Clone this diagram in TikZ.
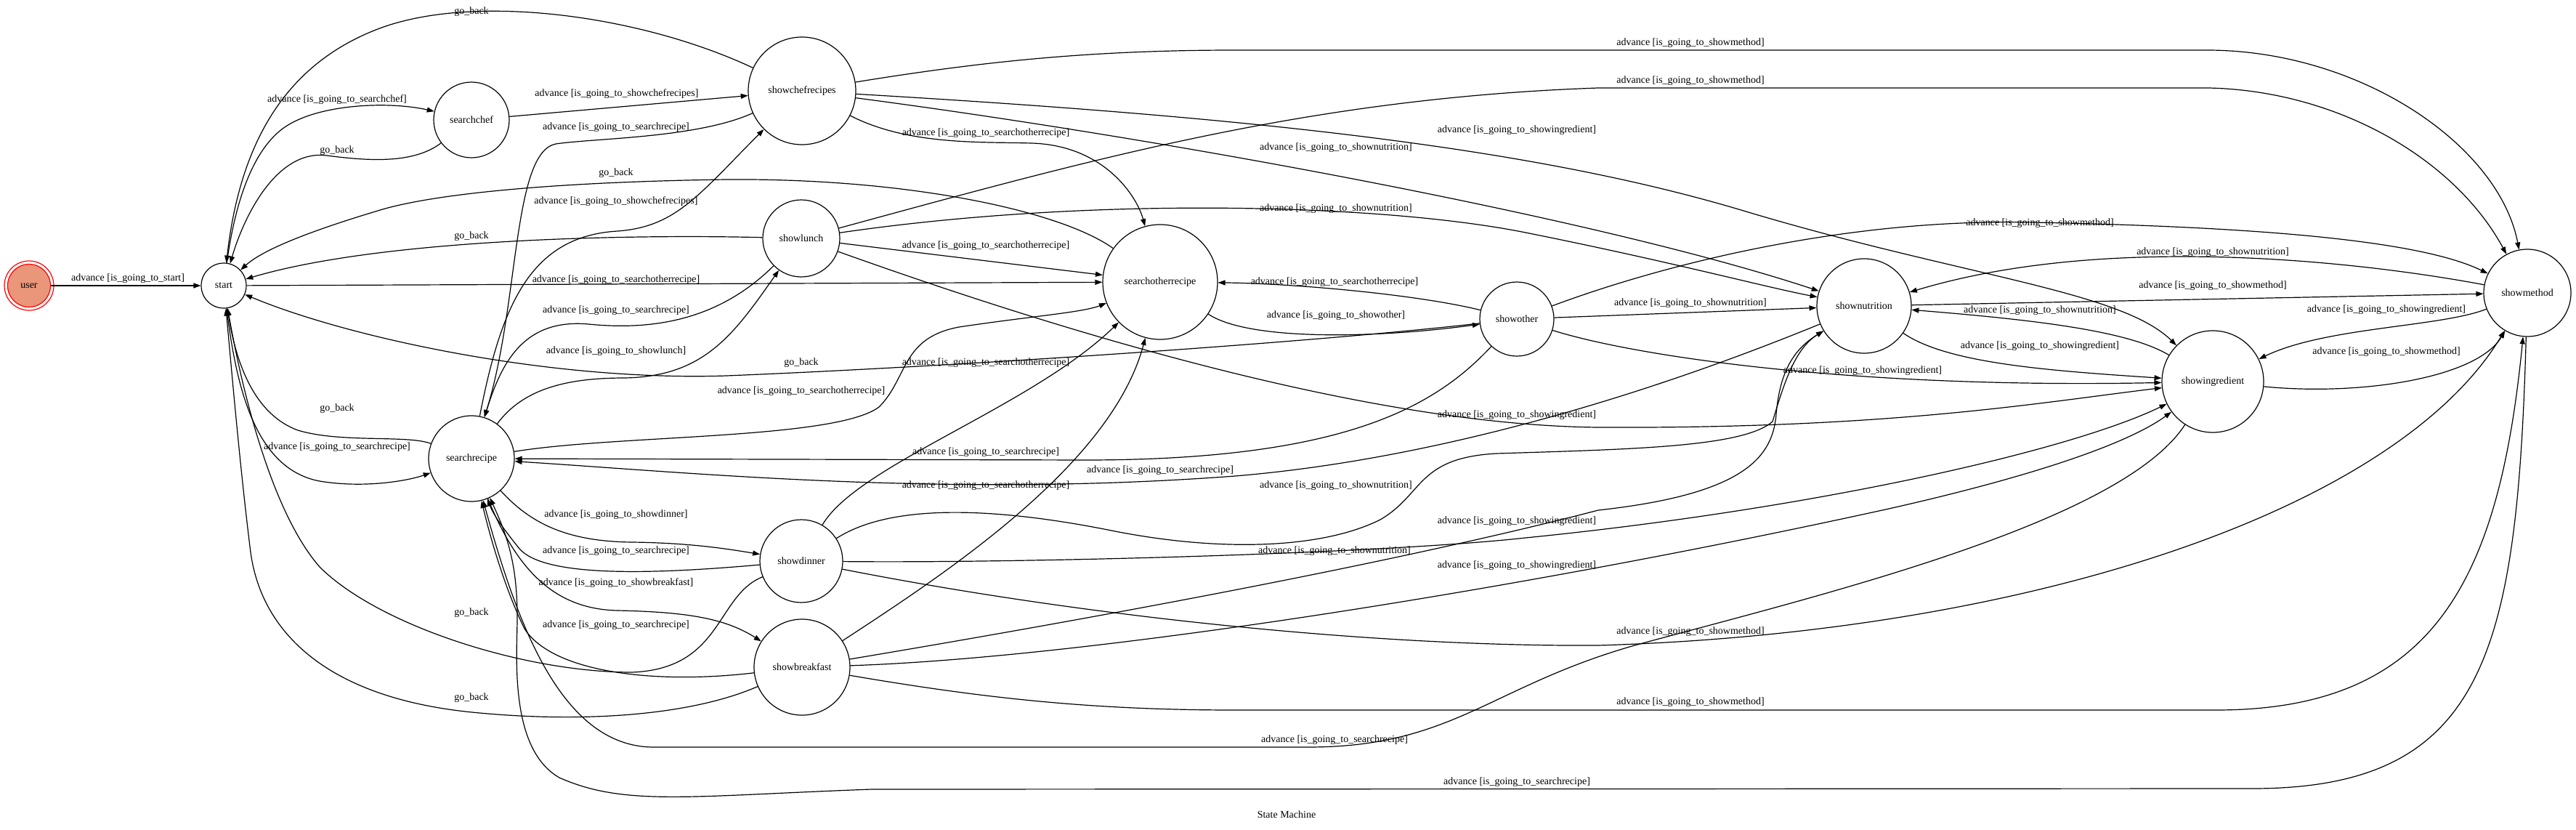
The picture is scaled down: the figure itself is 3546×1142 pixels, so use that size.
\documentclass[tikz,border=0pt]{standalone}
\usepackage{fontspec}
\setmainfont{Liberation Serif}
\usetikzlibrary{arrows.meta}
\definecolor{usrfill}{RGB}{233,150,122}
\tikzset{
every picture/.style={
line width=1.2pt
},
stnode/.style={circle, draw, inner sep=0pt, font=\fontsize{14}{16}\selectfont},
lbl/.style={inner sep=0pt, font=\fontsize{14}{16}\selectfont},
trans/.style={-{Triangle[length=10pt, width=7pt]}}
}
\newcommand\advlbl[1]{advance [is\_going\_to\_#1]}
\newcommand\gobk{go\_back}

\begin{document}
\begin{tikzpicture}[x=1pt, y=-1pt]
\useasboundingbox (0,0) rectangle (3546,1142);

% states: name/x/y/radius
\foreach \n/\x/\y/\r in {start/308/393/31, searchchef/649/165/52, showchefrecipes/1104/125/74,
  showlunch/1103/328/53, searchrecipe/649/631/59, showdinner/1103/772/57, showbreakfast/1104/918/66,
  searchotherrecipe/1597/388/79, showother/2088/439/51, shownutrition/2566/421/65,
  showingredient/3046/525/70, showmethod/3479/403/60}{
  \node[stnode, minimum size=2*\r] (\n) at (\x,\y) {\n};
}
\node[stnode, fill=usrfill, draw=red, minimum size=59] (user) at (40,393) {user};
\draw[red] (user.center) circle (34pt);
\node[lbl] (title) at (1771,1121) {State Machine};

% straight ones
\foreach \a/\b/\lx/\ly in {user/start/176/383, searchchef/showchefrecipes/849/129,
  start/searchotherrecipe/848/385, showlunch/searchotherrecipe/1357/338,
  showother/shownutrition/2327/417, shownutrition/showmethod/3046/393}{
  \draw[trans] (\a) -- (\b) node[lbl] (l\a\b) at (\lx,\ly) {\advlbl{\b}};
}

% go_back to start
\draw[trans] (searchchef) .. controls (570,225) and (510,222) .. (450,214) .. controls (380,205) and (335,300) .. (start)
  node[lbl] (gb1) at (464,207) {\gobk};
\draw[trans] (showchefrecipes) .. controls (880,20) and (650,-10) .. (520,40) .. controls (390,90) and (330,200) .. (start)
  node[lbl] (gb2) at (649,16) {\gobk};
\draw[trans] (searchotherrecipe) .. controls (1460,290) and (1250,245) .. (1000,247) .. controls (780,250) and (600,265) .. (520,290) .. controls (420,320) and (360,345) .. (start)
  node[lbl] (gb3) at (848,238) {\gobk};
\draw[trans] (showlunch) .. controls (850,322) and (520,330) .. (start)
  node[lbl] (gb4) at (649,325) {\gobk};
\draw[trans] (showother) .. controls (1800,472) and (1300,505) .. (1000,517) .. controls (760,525) and (480,465) .. (start)
  node[lbl] (gb5) at (1103,499) {\gobk};
\draw[trans] (searchrecipe) .. controls (560,598) and (470,610) .. (410,592) .. controls (350,570) and (325,500) .. (start)
  node[lbl] (gb6) at (464,562) {\gobk};
\draw[trans] (showdinner) .. controls (985,820) and (995,920) .. (870,925) .. controls (720,925) and (520,860) .. (440,780) .. controls (370,700) and (330,520) .. (start)
  node[lbl] (gb7) at (649,843) {\gobk};
\draw[trans] (showbreakfast) .. controls (950,985) and (800,995) .. (650,980) .. controls (450,960) and (360,870) .. (345,760) .. controls (330,640) and (318,500) .. (start)
  node[lbl] (gb8) at (649,960) {\gobk};

% from start and the search states
\draw[trans] (start) .. controls (322,290) and (345,200) .. (400,170) .. controls (450,142) and (540,140) .. (searchchef)
  node[lbl] (a1) at (464,137) {\advlbl{searchchef}};
\draw[trans] (start) .. controls (325,530) and (350,645) .. (440,662) .. controls (500,672) and (560,662) .. (searchrecipe)
  node[lbl] (a2) at (464,615) {\advlbl{searchrecipe}};
\draw[trans] (searchrecipe) .. controls (690,420) and (730,325) .. (850,318) .. controls (930,312) and (960,270) .. (showchefrecipes)
  node[lbl] (a3) at (848,277) {\advlbl{showchefrecipes}};
\draw[trans] (searchrecipe) .. controls (720,535) and (780,520) .. (860,520) .. controls (970,518) and (1010,460) .. (showlunch)
  node[lbl] (a4) at (848,483) {\advlbl{showlunch}};
\draw[trans] (searchrecipe) .. controls (730,720) and (780,745) .. (870,746) .. controls (950,747) and (1000,755) .. (showdinner)
  node[lbl] (a5) at (848,708) {\advlbl{showdinner}};
\draw[trans] (searchrecipe) .. controls (710,780) and (760,838) .. (850,840) .. controls (950,842) and (1000,852) .. (showbreakfast)
  node[lbl] (a6) at (848,802) {\advlbl{showbreakfast}};
\draw[trans] (searchrecipe) .. controls (850,598) and (1150,605) .. (1210,560) .. controls (1250,520) and (1240,465) .. (1320,450) .. controls (1420,435) and (1490,430) .. (searchotherrecipe)
  node[lbl] (a7) at (1103,538) {\advlbl{searchotherrecipe}};
\draw[trans] (searchotherrecipe) .. controls (1720,470) and (1900,465) .. (showother)
  node[lbl] (a8) at (1839,434) {\advlbl{showother}};

% back to searchrecipe
\draw[trans] (showchefrecipes) .. controls (960,190) and (820,190) .. (765,198) .. controls (705,210) and (715,420) .. (searchrecipe)
  node[lbl] (b1) at (848,175) {\advlbl{searchrecipe}};
\draw[trans] (showlunch) .. controls (990,440) and (900,455) .. (810,446) .. controls (720,438) and (690,500) .. (searchrecipe)
  node[lbl] (b2) at (848,427) {\advlbl{searchrecipe}};
\draw[trans] (showdinner) .. controls (900,790) and (750,795) .. (715,755) .. controls (695,730) and (680,710) .. (searchrecipe)
  node[lbl] (b3) at (848,758) {\advlbl{searchrecipe}};
\draw[trans] (showbreakfast) .. controls (900,942) and (760,925) .. (722,865) .. controls (695,810) and (675,740) .. (searchrecipe)
  node[lbl] (b4) at (848,860) {\advlbl{searchrecipe}};
\draw[trans] (showother) .. controls (1975,560) and (1850,632) .. (1500,633) -- (searchrecipe)
  node[lbl] (b5) at (1357,622) {\advlbl{searchrecipe}};
\draw[trans] (shownutrition) .. controls (2300,530) and (2000,630) .. (1700,655) .. controls (1300,685) and (950,650) .. (searchrecipe)
  node[lbl] (b6) at (1597,647) {\advlbl{searchrecipe}};
\draw[trans] (showingredient) .. controls (2920,720) and (2500,820) .. (2250,888) .. controls (2050,945) and (2000,1028) .. (1800,1028) -- (900,1028) .. controls (770,1028) and (710,850) .. (searchrecipe)
  node[lbl] (b7) at (1837,1018) {\advlbl{searchrecipe}};
\draw[trans] (showmethod) .. controls (3465,900) and (3420,1085) .. (3100,1085) -- (1200,1086) .. controls (950,1095) and (860,1110) .. (770,1070) .. controls (700,1030) and (712,900) .. (712,850) .. controls (712,780) and (700,740) .. (searchrecipe)
  node[lbl] (b8) at (2088,1076) {\advlbl{searchrecipe}};

% into searchotherrecipe
\draw[trans] (showchefrecipes) .. controls (1250,200) and (1350,195) .. (1420,197) .. controls (1520,200) and (1565,270) .. (searchotherrecipe)
  node[lbl] (c1) at (1357,183) {\advlbl{searchotherrecipe}};
\draw[trans] (showdinner) .. controls (1180,640) and (1420,560) .. (searchotherrecipe)
  node[lbl] (c2) at (1357,499) {\advlbl{searchotherrecipe}};
\draw[trans] (showbreakfast) .. controls (1300,790) and (1530,640) .. (searchotherrecipe)
  node[lbl] (c3) at (1357,668) {\advlbl{searchotherrecipe}};
\draw[trans] (showother) .. controls (1950,405) and (1780,390) .. (searchotherrecipe)
  node[lbl] (c4) at (1837,388) {\advlbl{searchotherrecipe}};

% into shownutrition
\draw[trans] (showchefrecipes) .. controls (1600,190) and (2200,300) .. (shownutrition)
  node[lbl] (n1) at (1839,203) {\advlbl{shownutrition}};
\draw[trans] (showlunch) .. controls (1500,270) and (1900,280) .. (2100,320) .. controls (2300,360) and (2430,395) .. (shownutrition)
  node[lbl] (n2) at (1839,287) {\advlbl{shownutrition}};
\draw[trans] (showdinner) .. controls (1230,690) and (1380,700) .. (1530,730) .. controls (1680,760) and (1820,755) .. (1900,715) .. controls (1960,680) and (1950,630) .. (2060,624) .. controls (2250,618) and (2400,615) .. (2440,580) .. controls (2455,530) and (2470,480) .. (shownutrition)
  node[lbl] (n3) at (1839,668) {\advlbl{shownutrition}};
\draw[trans] (showbreakfast) .. controls (1450,860) and (1900,780) .. (2200,702) .. controls (2400,680) and (2440,630) .. (2445,570) .. controls (2450,510) and (2470,480) .. (shownutrition)
  node[lbl] (n4) at (1837,758) {\advlbl{shownutrition}};
\draw[trans] (showmethod) .. controls (3250,360) and (2900,320) .. (shownutrition)
  node[lbl] (n5) at (3046,347) {\advlbl{shownutrition}};
\draw[trans] (showingredient) .. controls (2930,455) and (2800,440) .. (shownutrition)
  node[lbl] (n6) at (2808,427) {\advlbl{shownutrition}};

% into showingredient
\draw[trans] (showchefrecipes) .. controls (1700,160) and (2100,200) .. (2400,290) .. controls (2700,380) and (2920,400) .. (showingredient)
  node[lbl] (g1) at (2088,179) {\advlbl{showingredient}};
\draw[trans] (showlunch) .. controls (1500,470) and (1900,585) .. (2200,588) .. controls (2600,590) and (2800,555) .. (showingredient)
  node[lbl] (g2) at (2088,571) {\advlbl{showingredient}};
\draw[trans] (showdinner) .. controls (1400,775) and (1900,762) .. (2100,740) .. controls (2500,700) and (2850,620) .. (showingredient)
  node[lbl] (g3) at (2088,717) {\advlbl{showingredient}};
\draw[trans] (showbreakfast) .. controls (1500,905) and (2100,810) .. (2600,700) .. controls (2800,655) and (2930,610) .. (showingredient)
  node[lbl] (g4) at (2088,778) {\advlbl{showingredient}};
\draw[trans] (showother) .. controls (2250,490) and (2550,535) .. (showingredient)
  node[lbl] (g5) at (2564,510) {\advlbl{showingredient}};
\draw[trans] (shownutrition) .. controls (2680,500) and (2820,510) .. (showingredient)
  node[lbl] (g6) at (2808,476) {\advlbl{showingredient}};
\draw[trans] (showmethod) .. controls (3360,450) and (3200,450) .. (showingredient)
  node[lbl] (g7) at (3285,426) {\advlbl{showingredient}};

% into showmethod
\draw[trans] (showchefrecipes) .. controls (1350,85) and (1500,69) .. (1700,69) -- (3040,69) .. controls (3250,70) and (3440,200) .. (showmethod)
  node[lbl] (m1) at (2327,59) {\advlbl{showmethod}};
\draw[trans] (showlunch) .. controls (1500,220) and (1800,135) .. (2200,121) -- (3040,121) .. controls (3220,125) and (3380,220) .. (showmethod)
  node[lbl] (m2) at (2327,111) {\advlbl{showmethod}};
\draw[trans] (showother) .. controls (2300,360) and (2550,300) .. (2800,306) .. controls (3100,312) and (3330,330) .. (showmethod)
  node[lbl] (m3) at (2808,307) {\advlbl{showmethod}};
\draw[trans] (showingredient) .. controls (3250,545) and (3410,520) .. (showmethod)
  node[lbl] (m4) at (3285,484) {\advlbl{showmethod}};
\draw[trans] (showdinner) .. controls (1500,850) and (1900,890) .. (2200,888) .. controls (2800,870) and (3300,700) .. (showmethod)
  node[lbl] (m5) at (2327,869) {\advlbl{showmethod}};
\draw[trans] (showbreakfast) .. controls (1350,960) and (1500,977) .. (1700,977) -- (3050,977) .. controls (3350,977) and (3440,800) .. (showmethod)
  node[lbl] (m6) at (2327,966) {\advlbl{showmethod}};
\end{tikzpicture}
\end{document}
